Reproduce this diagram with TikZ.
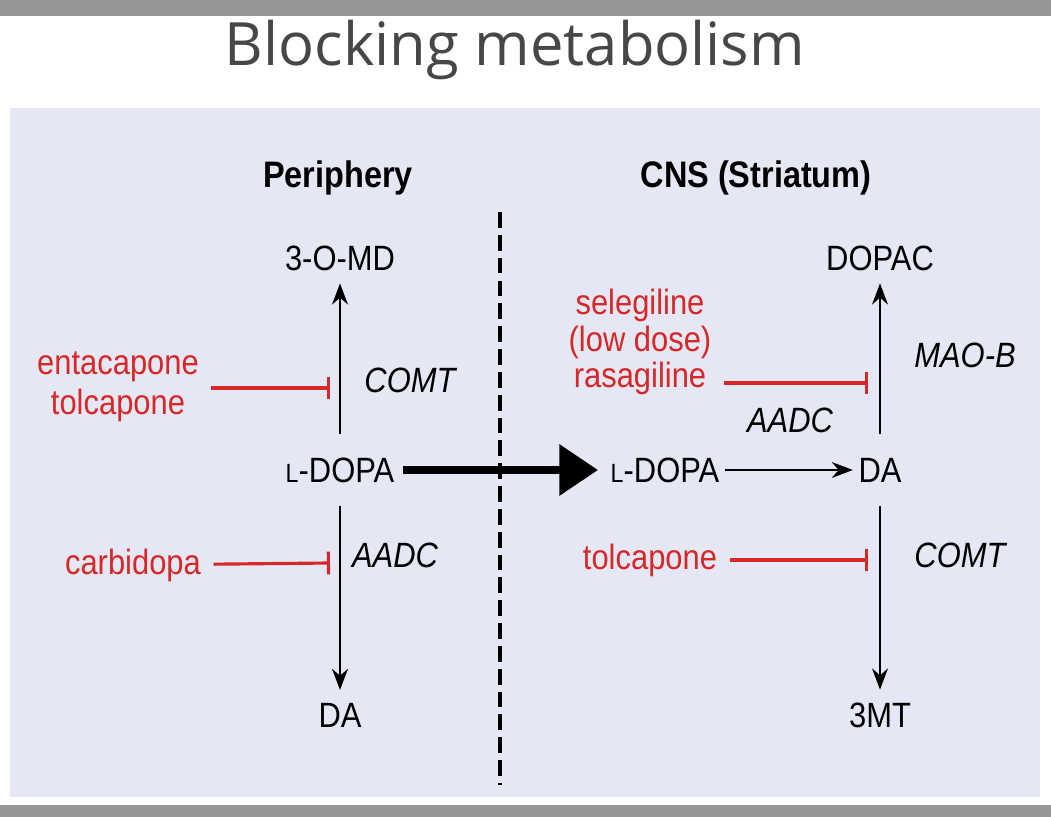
\documentclass[tikz,border=0pt]{standalone}
\usepackage{fontspec}
\setmainfont{Liberation Sans}
\newfontfamily\titlefont{Open Sans}
\usetikzlibrary{arrows.meta}
\definecolor{panel}{RGB}{230,231,244}
\definecolor{drugred}{RGB}{214,40,40}
\definecolor{bar}{RGB}{150,150,150}
\tikzset{every picture/.style={line width=0.75pt}}

\begin{document}
\begin{tikzpicture}[x=0.02cm,y=-0.02cm,
    lbl/.style={font=\fontsize{20}{25}\selectfont, inner sep=1pt, xscale=0.88},
    enz/.style={lbl, font=\fontsize{20}{25}\selectfont\itshape},
    drug/.style={lbl, text=drugred, align=center},
    path/.style={-{Stealth[length=12pt,width=9pt]}, line width=1.6pt, shorten <=12pt, shorten >=6pt},
    block/.style={-{Bar[width=13pt]}, drugred, line width=1.8pt, shorten <=6pt}]
        \useasboundingbox (0,0) rectangle (1051,817);
        \fill[white] (0,0) rectangle (1051,817);
        \fill[bar] (0,0) rectangle (1051,16);
        \fill[bar] (0,805) rectangle (1051,817);
        \fill[panel] (10,108) rectangle (1040,797);
        \node[font=\titlefont\fontsize{34}{38}\selectfont, text=black!72] (title) at (515,50) {Blocking metabolism};
        % periphery
        \node[lbl, font=\fontsize{21}{24}\selectfont\bfseries] (per) at (338,178) {Periphery};
        \node[lbl, font=\fontsize{21}{24}\selectfont\bfseries] (cns) at (756,178) {CNS (Striatum)};
        \coordinate (top) at (500,212);
        \coordinate (bot) at (500,785);
        \draw[dashed, line width=2pt, dash pattern=on 9pt off 4pt] (top) -- (bot);
        \node[lbl] (omd) at (340,258) {3-O-MD};
        \node[lbl] (ldopa) at (340,470) {{\fontsize{15}{15}\selectfont L}-DOPA};
        \node[lbl] (da) at (340,715) {DA};
        \node[enz] (comt) at (410,380) {COMT};
        \node[enz] (aadc) at (395,555) {AADC};
        \node[drug] (enta) at (118,387) {entacapone\\[-2pt]tolcapone};
        \node[drug] (carbi) at (133,565) {carbidopa};
        \coordinate (c1) at (330,388);
        \coordinate (c2) at (330,563);
        % striatum
        \node[lbl] (ldopa2) at (665,470) {{\fontsize{15}{15}\selectfont L}-DOPA};
        \node[lbl] (da2) at (880,470) {DA};
        \node[enz] (aadc2) at (790,420) {AADC};
        \node[lbl] (dopac) at (880,258) {DOPAC};
        \node[enz] (maob) at (965,355) {MAO-B};
        \node[lbl] (mt) at (880,715) {3MT};
        \node[enz] (comt2) at (960,555) {COMT};
        \node[drug] (sele) at (640,342) {selegiline\\[-4pt](low dose)\\[-4pt]rasagiline};
        \node[drug] (tolca) at (650,560) {tolcapone};
        \coordinate (c3) at (868,383);
        \coordinate (c4) at (868,560);
        \draw
            (ldopa) edge[path] (omd)
            (ldopa) edge[path] (da)
            (enta.east |- c1) edge[block] (c1)
            (carbi) edge[block] (c2)
            (ldopa) edge[-{Triangle[length=22pt,width=28pt]}, line width=5pt, shorten <=4pt, shorten >=6pt] (ldopa2)
            (ldopa2) edge[path, shorten <=2pt, shorten >=2pt] (da2)
            (da2) edge[path] (dopac)
            (da2) edge[path] (mt)
            (sele.east |- c3) edge[block] (c3)
            (tolca) edge[block] (c4)
            ;
    \end{tikzpicture}
\end{document}
